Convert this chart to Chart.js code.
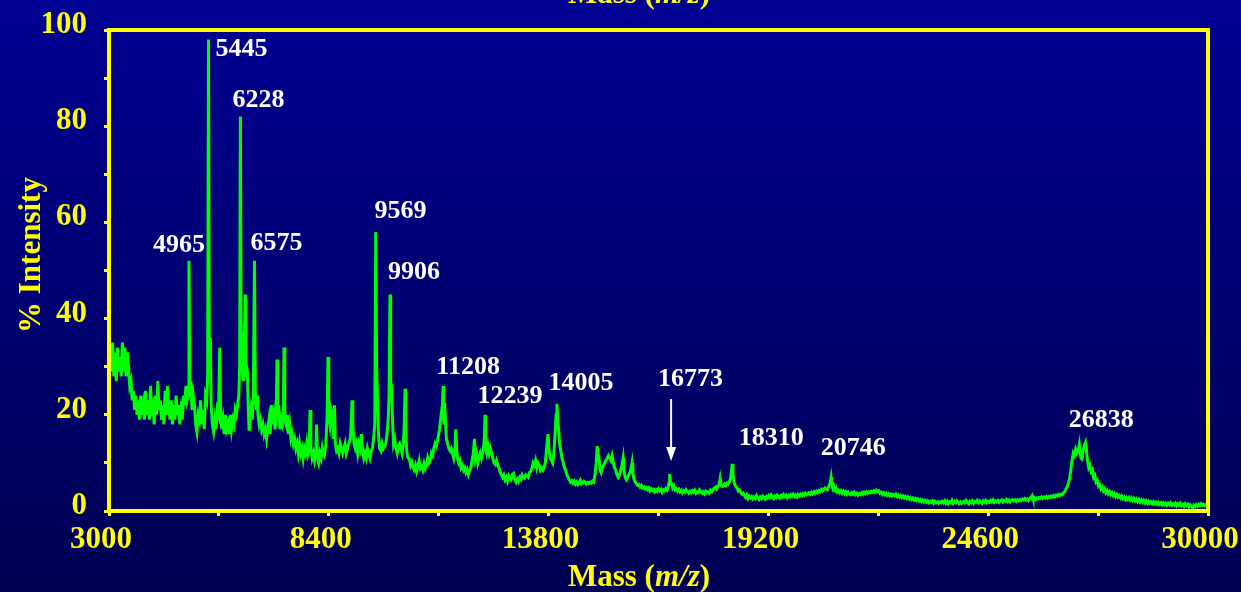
<!DOCTYPE html>
<html>
<head>
<meta charset="utf-8">
<script src="https://cdn.jsdelivr.net/npm/chart.js@4"></script>
<style>
  html, body { margin: 0; padding: 0; }
  #wrap {
    width: 1241px; height: 592px; position: relative;
    background: linear-gradient(#000093, #000052);
  }
</style>
</head>
<body>
<div id="wrap"><canvas id="chart-spectrum"></canvas></div>
<script>
// Spectrum: [mass (m/z), % intensity]
const spectrum = [
  [3000,30],[3030,34],[3060,29],[3090,35],[3120,28],[3150,33],[3180,27],[3210,34],[3240,29],[3270,32],
  [3300,28],[3330,35],[3360,29],[3390,34],[3420,28],[3450,33],[3480,30],[3510,26],[3540,27],[3570,23],
  [3600,25],[3630,21],[3660,24],[3690,20],[3720,23],[3750,19],[3780,24],[3810,20],[3840,22],[3870,19],
  [3900,25],[3930,20],[3960,23],[3990,19],[4020,26],[4050,21],[4080,22],[4110,18],[4140,24],[4170,20],
  [4200,27],[4230,21],[4260,23],[4290,19],[4320,22],[4350,18],[4380,25],[4410,20],[4440,26],[4470,21],
  [4500,19],[4530,23],[4560,18],[4590,22],[4620,19],[4650,24],[4680,20],[4710,22],[4740,18],[4770,21],
  [4800,19],[4830,24],[4860,22],[4890,26],[4920,23],[4945,24],[4965,52],[4985,25],[5010,27],[5040,21],
  [5070,24],[5100,22],[5130,18],[5160,16.5],[5190,20],[5220,19],[5250,23],[5280,18],[5310,21],[5340,17],
  [5370,24],[5400,23],[5425,28],[5445,98],[5465,31],[5490,36],[5510,22],[5540,18],[5570,16.5],[5600,19],
  [5630,17],[5660,21],[5690,20],[5720,34],[5740,21],[5770,17],[5800,19],[5830,16],[5860,20],[5890,17],
  [5920,18],[5950,16],[5980,20],[6010,17],[6040,19],[6070,18],[6100,21],[6130,20],[6160,22],[6190,24],
  [6210,30],[6228,82],[6245,40],[6270,30],[6300,27],[6320,32],[6342,45],[6360,28],[6380,30],[6400,29],
  [6420,22],[6440,17],[6460,18],[6490,21],[6520,19],[6545,24],[6575,52],[6595,25],[6620,21],[6640,24],
  [6660,20],[6690,18],[6720,19],[6750,17],[6780,18],[6810,16],[6840,17],[6870,15],[6900,17],[6930,19],
  [6960,16],[6990,22],[7020,18],[7050,20],[7080,17],[7105,19],[7128,31.5],[7145,20],[7170,22],[7200,17],
  [7230,19],[7260,18],[7280,20],[7300,34],[7320,19],[7350,18],[7380,20],[7410,16],[7440,18],[7470,15],
  [7500,16],[7530,14],[7560,15],[7590,13],[7620,14],[7650,12],[7680,14],[7710,12],[7740,13],[7770,11],
  [7800,13],[7830,12],[7860,14],[7890,12],[7915,13],[7940,21],[7960,13],[7990,11],[8020,12],[8050,10.5],
  [8080,12],[8100,18],[8120,11],[8150,10],[8180,12],[8210,11],[8240,13],[8260,12],[8290,11.5],[8330,14],
  [8360,20],[8381,32],[8400,20],[8430,18],[8460,21],[8490,20],[8510,15],[8540,22],[8560,14],[8590,12.5],
  [8620,13],[8650,12],[8680,14],[8710,13],[8740,12],[8770,13],[8800,14],[8830,12],[8860,13],[8890,14],
  [8930,15],[8950,18],[8970,23],[8990,18],[9020,14],[9050,13],[9080,14],[9110,12],[9140,14],[9170,13],
  [9200,16],[9230,12.5],[9260,11],[9290,12],[9320,11],[9350,13],[9380,12],[9410,11],[9440,12.5],[9470,13],
  [9500,15],[9530,18],[9553,58],[9575,30],[9595,24],[9620,16],[9650,13],[9680,12.5],[9710,14],[9740,13],
  [9770,13.5],[9800,14],[9830,16],[9860,19],[9880,24],[9904,45],[9920,27],[9940,26],[9960,20],[9990,14],
  [10020,15],[10050,13],[10080,12],[10110,13.5],[10140,14],[10170,13],[10200,12],[10230,14],[10250,17],[10273,25.4],
  [10290,16],[10320,12],[10350,11],[10380,10.8],[10410,9.5],[10440,10.2],[10470,9],[10500,8.5],[10530,9.5],[10560,8.3],
  [10590,9.4],[10620,10.5],[10650,8.8],[10680,9.2],[10710,8.5],[10740,9.8],[10770,8.8],[10800,9.5],[10830,11],[10860,10],
  [10890,10.5],[10920,12],[10950,11.5],[10980,13],[11010,14],[11040,13.5],[11080,15],[11120,17],[11160,20],[11190,22],
  [11208,26],[11225,18],[11245,22.5],[11265,19],[11290,15],[11320,14],[11350,13],[11380,12.5],[11410,13],[11440,12],
  [11470,11],[11500,13],[11520,17],[11540,13],[11560,11],[11590,10],[11620,10.5],[11650,9],[11680,9.5],[11710,8.5],
  [11740,9],[11770,8],[11800,8.6],[11830,7.6],[11860,8.4],[11890,9],[11920,10.5],[11950,12],[11980,15],[12000,11],
  [12030,12],[12060,10],[12090,11],[12120,12],[12150,11],[12180,12],[12200,13],[12220,15],[12239,20],[12255,13],
  [12280,12],[12310,13.5],[12340,12],[12370,13],[12400,12],[12430,11],[12460,10],[12490,9.7],[12520,10.5],[12550,9.5],
  [12580,9],[12610,8],[12640,7.5],[12670,7],[12700,7.5],[12730,6.5],[12760,7],[12790,6.2],[12820,7.3],[12850,6.8],
  [12880,6.5],[12910,7.6],[12940,7.8],[12970,6.5],[13000,6],[13030,6.6],[13060,6.1],[13090,7],[13120,6.6],[13150,7.5],
  [13180,7],[13210,6.8],[13240,7.5],[13270,7.3],[13300,7],[13330,8],[13360,8.2],[13390,9],[13420,10],[13450,9.5],
  [13480,10.5],[13510,9],[13540,10],[13570,9.5],[13600,8.5],[13630,9],[13660,8.5],[13690,9],[13720,10],[13750,13],
  [13786,16],[13810,12.5],[13840,11],[13870,10.5],[13900,10],[13930,12],[13960,16],[13985,20],[14005,22.3],[14020,19.5],
  [14045,17],[14070,14],[14100,12.5],[14130,11],[14160,10],[14190,9],[14220,8.5],[14250,7.5],[14280,7],[14310,6.5],
  [14340,6],[14370,6.3],[14400,5.8],[14430,6.2],[14460,5.6],[14490,6],[14520,5.5],[14550,5.9],[14580,6.4],[14610,5.6],
  [14640,5.8],[14670,6.2],[14700,6],[14730,5.6],[14760,5.9],[14790,5.7],[14820,6],[14850,5.8],[14880,6.2],[14910,6],
  [14940,7.5],[14970,10],[14995,13.5],[15015,12],[15040,11],[15065,8.5],[15090,8],[15120,9],[15150,9.5],[15180,10],
  [15210,10.5],[15240,11],[15270,11.5],[15300,11],[15330,10.5],[15360,11.5],[15390,10],[15420,9],[15450,8.5],[15480,7.5],
  [15510,7],[15540,7.5],[15570,8.5],[15600,9.5],[15630,11],[15650,8.5],[15680,7],[15710,6.5],[15740,7],[15770,7.5],
  [15800,8],[15830,9],[15850,10],[15870,8],[15900,6.5],[15930,6],[15960,5.6],[15990,5.3],[16020,5.5],[16050,5],
  [16080,5.3],[16110,4.8],[16140,5],[16170,4.6],[16200,4.9],[16230,4.5],[16260,4.8],[16290,4.2],[16320,4.6],[16350,4.3],
  [16380,4.5],[16410,4],[16440,4.4],[16470,4.1],[16500,4.6],[16530,4.2],[16560,4.5],[16590,3.9],[16620,4.4],[16650,4.2],
  [16680,4.6],[16710,4.3],[16740,5],[16760,6],[16773,7.7],[16790,6.5],[16810,5.5],[16830,5.9],[16850,4.8],[16880,5.2],
  [16910,4.4],[16940,4.6],[16970,4.1],[17000,4.5],[17030,4],[17060,4.3],[17090,3.8],[17120,4.2],[17150,3.9],[17180,4.4],
  [17210,4],[17240,3.7],[17270,4.1],[17300,3.8],[17330,4.2],[17360,3.9],[17390,4.3],[17420,3.7],[17450,4],[17480,3.8],
  [17510,4.4],[17540,4.1],[17570,3.7],[17600,4],[17630,3.6],[17660,4.1],[17690,3.8],[17720,4],[17750,3.7],[17780,4.3],
  [17810,4],[17840,4.4],[17870,4.8],[17900,5],[17930,4.6],[17960,5.2],[17990,5.5],[18012,6.6],[18030,5.4],[18060,5.1],
  [18090,5.2],[18120,5.6],[18150,5.3],[18180,5.8],[18210,5.6],[18240,6],[18270,6.8],[18290,8],[18310,9.8],[18330,7.5],
  [18350,6.5],[18370,5.6],[18400,5.1],[18430,4.8],[18460,4.2],[18490,4.4],[18520,3.8],[18550,3.5],[18580,3.7],[18610,3.2],
  [18640,2.8],[18670,3.3],[18700,2.6],[18730,3.1],[18760,2.7],[18790,3],[18820,2.5],[18850,2.9],[18880,2.6],[18910,3.2],
  [18940,2.7],[18970,2.4],[19000,2.9],[19030,2.6],[19060,3.1],[19090,2.8],[19120,2.5],[19150,3],[19180,2.7],[19210,3.2],
  [19240,2.8],[19270,3.3],[19300,2.9],[19330,2.6],[19360,3.1],[19390,2.8],[19420,3.3],[19450,3],[19480,2.7],[19510,3.2],
  [19540,2.9],[19570,3.4],[19600,3],[19630,3.3],[19660,2.8],[19690,3.2],[19720,2.9],[19750,3.4],[19780,3.1],[19810,3.5],
  [19840,3],[19870,3.3],[19900,2.9],[19930,3.4],[19960,3.1],[19990,3.5],[20020,3.2],[20050,3.6],[20080,3.3],[20110,3.7],
  [20140,3.4],[20170,3.6],[20200,3.8],[20230,3.5],[20260,3.9],[20290,3.6],[20320,4],[20350,3.7],[20380,4.1],[20410,3.8],
  [20440,4.2],[20470,4],[20500,4.5],[20530,4.2],[20560,4.5],[20590,4.8],[20620,4.6],[20650,4.4],[20680,5],[20710,5.6],
  [20740,7],[20760,5.5],[20780,4.8],[20800,5.2],[20830,4.4],[20860,4.8],[20890,4],[20920,4.3],[20950,3.8],[20980,4.2],
  [21010,3.7],[21040,4.1],[21070,3.6],[21100,4],[21130,3.5],[21160,3.9],[21190,3.6],[21220,3.4],[21250,3.8],[21280,3.5],
  [21310,3.9],[21340,3.4],[21370,3.7],[21400,3.3],[21430,3.6],[21460,3.4],[21490,3.8],[21520,3.5],[21550,3.9],[21580,3.6],
  [21610,4],[21640,3.7],[21670,4],[21700,3.8],[21730,4.1],[21760,3.9],[21790,4.2],[21820,3.9],[21850,4.3],[21880,4],
  [21910,4.2],[21940,3.7],[21970,3.9],[22000,3.5],[22030,3.8],[22060,3.4],[22090,3.7],[22120,3.3],[22150,3.6],[22180,3.2],
  [22210,3.5],[22240,3.1],[22270,3.4],[22300,3.2],[22330,3.5],[22360,3],[22390,3.3],[22420,2.9],[22450,3.2],[22480,2.8],
  [22510,3.1],[22540,2.7],[22570,3],[22600,2.6],[22630,2.9],[22660,2.5],[22690,2.8],[22720,2.4],[22750,2.7],[22780,2.3],
  [22810,2.6],[22840,2.2],[22870,2.5],[22900,2.1],[22930,2.4],[22960,2],[22990,2.3],[23020,1.9],[23050,2.2],[23080,1.8],
  [23110,2.1],[23140,1.7],[23170,2],[23200,1.8],[23230,2.1],[23260,1.6],[23290,2],[23320,1.7],[23350,1.9],[23380,1.6],
  [23410,1.9],[23440,1.7],[23470,2],[23500,1.7],[23530,2.1],[23560,1.6],[23590,2],[23620,1.5],[23650,1.9],[23680,1.7],
  [23710,2.2],[23740,1.6],[23770,2],[23800,1.7],[23830,2.1],[23860,1.8],[23890,1.5],[23920,1.9],[23950,1.6],[24000,2],
  [24030,1.7],[24060,2.2],[24090,1.8],[24120,1.5],[24150,2],[24180,1.7],[24210,2.1],[24240,1.6],[24270,2],[24300,1.8],
  [24330,2.2],[24360,1.7],[24390,2.1],[24420,1.9],[24450,1.6],[24480,2.1],[24510,1.8],[24540,2.2],[24570,1.7],[24600,2],
  [24630,1.8],[24660,2.2],[24690,1.9],[24720,2.3],[24750,1.8],[24780,2.1],[24810,1.9],[24840,2.2],[24870,1.8],[24900,2.1],
  [24930,2.3],[24960,1.9],[24990,2.2],[25020,2],[25050,2.4],[25080,2],[25110,2.3],[25140,1.9],[25170,2.2],[25200,2.4],
  [25230,2.1],[25260,2.3],[25290,2],[25320,2.3],[25350,2.1],[25380,2.4],[25410,2.2],[25440,2.5],[25470,2.3],[25500,2.6],
  [25530,2.3],[25560,2.5],[25590,2.2],[25620,2.6],[25650,2.8],[25680,3.2],[25700,2.6],[25730,2.8],[25760,2.4],[25790,2.7],
  [25820,2.5],[25850,2.8],[25880,2.6],[25910,2.9],[25940,2.6],[25970,2.9],[26000,2.7],[26030,3],[26060,2.7],[26090,3],
  [26120,2.8],[26150,3.1],[26180,2.9],[26210,3.2],[26240,3],[26270,3.3],[26300,3.1],[26330,3.4],[26360,3.2],[26390,3.5],
  [26420,3.4],[26450,3.8],[26480,4],[26510,4.6],[26540,5],[26570,5.8],[26600,6.8],[26630,8.5],[26660,10.5],[26690,12],
  [26720,11.5],[26750,12.8],[26780,12],[26810,12.5],[26838,13.8],[26860,12],[26880,11],[26905,10.8],[26930,12.5],[26960,13.5],
  [26990,14.2],[27010,13],[27040,10.5],[27070,9],[27100,9.5],[27130,8.2],[27160,8.6],[27190,7],[27220,7.4],[27250,6],
  [27280,6.3],[27310,5.2],[27340,5.5],[27370,4.6],[27400,5],[27430,4.2],[27460,4.6],[27490,3.8],[27520,4.2],[27550,3.6],
  [27580,4],[27610,3.4],[27640,3.8],[27670,3.2],[27700,3.6],[27730,3],[27760,3.4],[27790,2.9],[27820,3.2],[27850,2.7],
  [27880,3.1],[27910,2.6],[27940,2.9],[27970,2.4],[28000,2.8],[28030,2.4],[28060,2.8],[28090,2.3],[28120,2.7],[28150,2.2],
  [28180,2.6],[28210,2.1],[28240,2.5],[28270,2],[28300,2.4],[28330,1.9],[28360,2.3],[28390,1.8],[28420,2.2],[28450,1.7],
  [28480,2.1],[28510,1.6],[28540,2],[28570,1.6],[28600,1.9],[28630,1.5],[28660,1.9],[28690,1.5],[28720,1.8],[28750,1.4],
  [28780,1.8],[28810,1.4],[28840,1.7],[28870,1.3],[28900,1.7],[28930,1.3],[28960,1.6],[28990,1.2],[29020,1.6],[29050,1.3],
  [29080,1.7],[29110,1.2],[29140,1.5],[29170,1.2],[29200,1.6],[29230,1.1],[29260,1.5],[29290,1.2],[29320,1.6],[29350,1.1],
  [29380,1.4],[29410,1],[29440,1.5],[29470,1.1],[29500,1.4],[29530,0.9],[29560,1.3],[29590,1],[29620,0.6],[29650,1.2],
  [29680,0.9],[29710,1.3],[29740,1],[29770,1.4],[29800,1.1],[29830,1.5],[29860,1.2],[29890,1.4],[29920,1.1],[29950,1.3],
  [29980,1.2],[30000,1.2]
];

// Labelled peaks
const peakMass   = [4965, 5445, 6228, 6575, 9569, 9906, 11208, 12239, 14005, 16773, 18310, 20746, 26838];
const peakHeight = [52, 98, 82, 52, 58, 45, 26, 20, 22.3, 7.7, 9.8, 7, 13.8];
const peakText   = ['4965', '5445', '6228', '6575', '9569', '9906', '11208', '12239', '14005', '16773', '18310', '20746', '26838'];
const arrowPeak  = 16773;

// Axis tick labels
const xTickLabels = [3000, 8400, 13800, 19200, 24600, 30000];
const yTickLabels = [0, 20, 40, 60, 80, 100];

// label offsets from the peak tip, in pixels
const labelOffset = [
  [-10, -16], [33, 10], [18, -16], [22, -18], [24, -21], [24, -22], [25, -19],
  [25, -19], [24, -20], [21, -95], [39, -26], [22, -29], [22, -24]
];

const yellow = '#ffff00';
const serif = '"Liberation Serif", "Times New Roman", serif';

const decor = {
  id: 'decor',
  afterDraw(chart) {
    const {ctx, chartArea: a, scales: {x, y}} = chart;
    ctx.save();

    // yellow frame
    ctx.strokeStyle = yellow;
    ctx.lineWidth = 4;
    ctx.strokeRect(a.left, a.top, a.right - a.left, a.bottom - a.top);

    // tick labels
    ctx.fillStyle = yellow;
    ctx.font = 'bold 31px ' + serif;
    ctx.textBaseline = 'middle';
    ctx.textAlign = 'center';
    xTickLabels.forEach(v => ctx.fillText(String(v), x.getPixelForValue(v) - 8, a.bottom + 29));
    ctx.textAlign = 'right';
    yTickLabels.forEach(v => ctx.fillText(String(v), 87, y.getPixelForValue(v) - 5));

    // axis titles
    const massTitle = (cx, cy) => {
      const parts = [['Mass (', 'bold'], ['m/z', 'italic bold'], [')', 'bold']];
      let w = 0;
      parts.forEach(p => { ctx.font = p[1] + ' 31px ' + serif; w += ctx.measureText(p[0]).width; });
      let xx = cx - w / 2;
      ctx.textAlign = 'left';
      parts.forEach(p => {
        ctx.font = p[1] + ' 31px ' + serif;
        ctx.fillText(p[0], xx, cy);
        xx += ctx.measureText(p[0]).width;
      });
    };
    ctx.textBaseline = 'alphabetic';
    massTitle(639, 586);
    massTitle(639, 3);

    ctx.save();
    ctx.translate(40, 255);
    ctx.rotate(-Math.PI / 2);
    ctx.textAlign = 'center';
    ctx.font = 'bold 31px ' + serif;
    ctx.fillText('% Intensity', 0, 0);
    ctx.restore();

    // peak labels
    ctx.fillStyle = '#ffffff';
    ctx.font = 'bold 26px ' + serif;
    ctx.textAlign = 'center';
    ctx.textBaseline = 'middle';
    peakMass.forEach((m, i) => {
      const px = x.getPixelForValue(m);
      const py = y.getPixelForValue(peakHeight[i]);
      ctx.fillText(peakText[i], px + labelOffset[i][0], py + labelOffset[i][1]);
    });

    // arrow to the 16773 peak
    const ax = x.getPixelForValue(arrowPeak) + 1.5;
    const ay = y.getPixelForValue(peakHeight[peakMass.indexOf(arrowPeak)]);
    ctx.strokeStyle = '#ffffff';
    ctx.lineWidth = 2;
    ctx.beginPath();
    ctx.moveTo(ax, ay - 75);
    ctx.lineTo(ax, ay - 25);
    ctx.stroke();
    ctx.beginPath();
    ctx.moveTo(ax - 5, ay - 27);
    ctx.lineTo(ax + 5, ay - 27);
    ctx.lineTo(ax, ay - 13);
    ctx.closePath();
    ctx.fill();

    ctx.restore();
  }
};

const data_spectrum = {
  datasets: [{
    label: 'Spectrum',
    data: spectrum.map(p => ({x: p[0], y: p[1]})),
    borderColor: '#00ff00',
    borderWidth: 3,
    pointRadius: 0,
    tension: 0,
    fill: false
  }]
};

const config_spectrum = {
  type: 'line',
  data: data_spectrum,
  options: {
    responsive: true,
    maintainAspectRatio: false,
    animation: false,
    layout: {padding: {left: 104, right: 33, top: 30, bottom: 76}},
    plugins: {legend: {display: false}, tooltip: {enabled: false}},
    scales: {
      x: {
        type: 'linear', min: 3000, max: 30000,
        ticks: {display: false, stepSize: 2700},
        grid: {drawOnChartArea: false, drawTicks: true, tickLength: 5, color: yellow, lineWidth: 3},
        border: {display: false}
      },
      y: {
        min: 0, max: 100,
        ticks: {display: false, stepSize: 10},
        grid: {drawOnChartArea: false, drawTicks: true, tickLength: 5, color: yellow, lineWidth: 3},
        border: {display: false}
      }
    }
  },
  plugins: [decor]
};

const myChart_spectrum = new Chart(
  document.getElementById('chart-spectrum'),
  config_spectrum
);
</script>
</body>
</html>
